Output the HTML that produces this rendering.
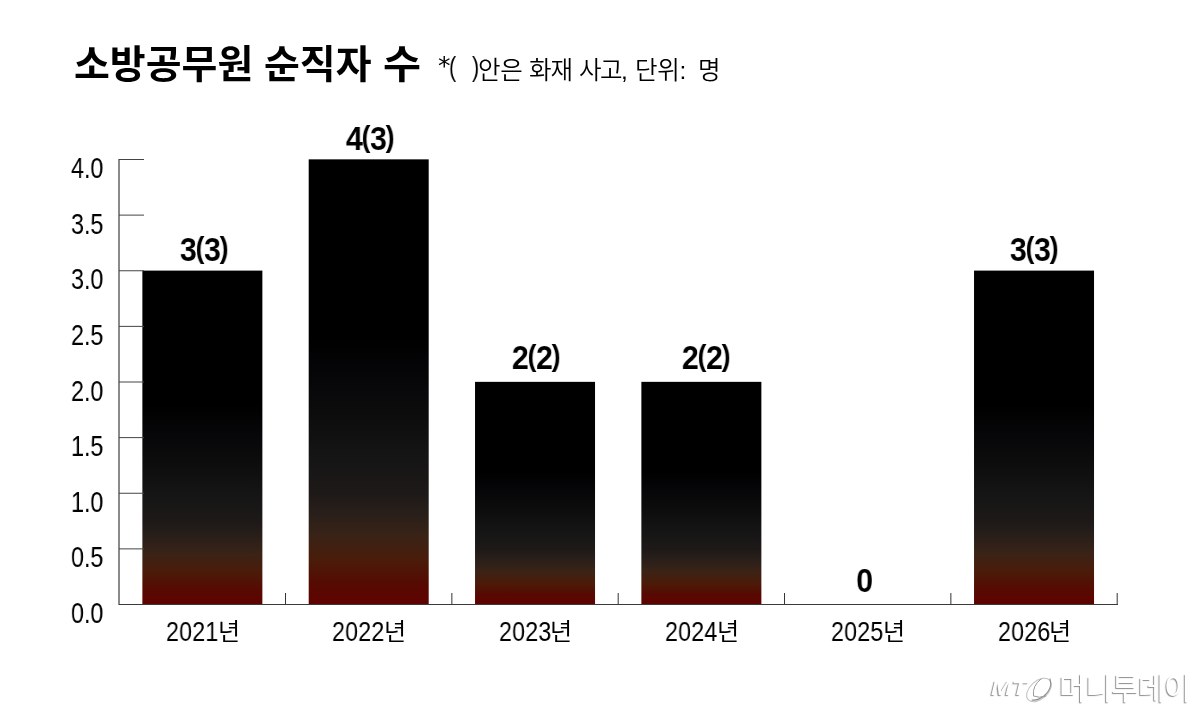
<!DOCTYPE html>
<html lang="ko">
<head>
<meta charset="utf-8">
<title>소방공무원 순직자 수</title>
<style>
html,body{margin:0;padding:0;background:#fff;}
body{width:1200px;height:712px;overflow:hidden;position:relative;
  font-family:"Liberation Sans","Noto Sans CJK KR",sans-serif;color:#000;}
div{position:absolute;white-space:nowrap;line-height:1;will-change:transform;}
.tt{font-weight:700;font-size:38.6px;top:46.3px;transform-origin:0 0;transform:scaleX(1.01);}
.st{font-size:24.5px;top:58px;font-weight:350;}
.yl{left:71.3px;font-size:29.5px;transform-origin:0 0;transform:scaleX(0.79);}
.val{width:120px;text-align:center;font-weight:700;font-size:34px;letter-spacing:-1.45px;transform:scaleX(0.894);}
.val .p{font-size:30px;position:relative;top:-2.8px;letter-spacing:-0.4px;}
.xn{top:618.6px;font-size:27px;letter-spacing:0.2px;transform-origin:0 0;transform:scaleX(0.86);}
.xk{top:620px;font-size:24px;}
.wm{color:#fff;text-shadow:-1px 1px 1px rgba(0,0,0,.45);}
svg{position:absolute;left:0;top:0;}
</style>
</head>
<body>
<svg width="1200" height="712" viewBox="0 0 1200 712">
  <defs>
    <linearGradient id="g" x1="0" y1="0" x2="0" y2="1">
      <stop offset="0" stop-color="#000"/>
      <stop offset="0.40" stop-color="#000"/>
      <stop offset="0.47" stop-color="#050507"/>
      <stop offset="0.58" stop-color="#0d0d0e"/>
      <stop offset="0.67" stop-color="#151515"/>
      <stop offset="0.75" stop-color="#1d1918"/>
      <stop offset="0.80" stop-color="#2a1f1a"/>
      <stop offset="0.85" stop-color="#3a2316"/>
      <stop offset="0.90" stop-color="#4a1c0a"/>
      <stop offset="0.955" stop-color="#560a02"/>
      <stop offset="1" stop-color="#600200"/>
    </linearGradient>
  </defs>
  <rect x="142.37" y="270.60" width="120" height="333.70" fill="url(#g)"/><rect x="308.70" y="159.35" width="120" height="444.95" fill="url(#g)"/><rect x="475.03" y="381.85" width="120" height="222.45" fill="url(#g)"/><rect x="641.37" y="381.85" width="120" height="222.45" fill="url(#g)"/><rect x="974.03" y="270.60" width="120" height="333.70" fill="url(#g)"/>
  <g stroke="#555" stroke-width="1" fill="none" shape-rendering="crispEdges">
    <line x1="119" y1="159" x2="119" y2="605" stroke="#2a2a2a" stroke-width="1.1" shape-rendering="auto"/>
    <line x1="119" y1="604.5" x2="1118" y2="604.5" stroke="#3a3a3a"/>
    <line x1="119" y1="159.50" x2="144" y2="159.50" stroke="#444" shape-rendering="auto"/><line x1="119" y1="215.12" x2="144" y2="215.12" stroke="#444" shape-rendering="auto"/><line x1="119" y1="270.75" x2="144" y2="270.75" stroke="#444" shape-rendering="auto"/><line x1="119" y1="326.38" x2="144" y2="326.38" stroke="#444" shape-rendering="auto"/><line x1="119" y1="382.00" x2="144" y2="382.00" stroke="#444" shape-rendering="auto"/><line x1="119" y1="437.62" x2="144" y2="437.62" stroke="#444" shape-rendering="auto"/><line x1="119" y1="493.25" x2="144" y2="493.25" stroke="#444" shape-rendering="auto"/><line x1="119" y1="548.88" x2="144" y2="548.88" stroke="#444" shape-rendering="auto"/>
    <line x1="285.53" y1="593" x2="285.53" y2="604" stroke="#333" shape-rendering="auto"/><line x1="451.87" y1="593" x2="451.87" y2="604" stroke="#333" shape-rendering="auto"/><line x1="618.20" y1="593" x2="618.20" y2="604" stroke="#333" shape-rendering="auto"/><line x1="784.53" y1="593" x2="784.53" y2="604" stroke="#333" shape-rendering="auto"/><line x1="950.87" y1="593" x2="950.87" y2="604" stroke="#333" shape-rendering="auto"/><line x1="1117.20" y1="593" x2="1117.20" y2="604" stroke="#333" shape-rendering="auto"/>
  </g>
</svg>
<div class="tt" style="left:74px">소방공무원</div>
<div class="tt" style="left:264px">순직자</div>
<div class="tt" style="left:383px;transform:scaleX(1.07)">수</div>
<div class="st" style="left:438px;top:52.5px;font-size:25px;font-weight:400;font-family:&quot;DejaVu Sans&quot;,sans-serif">*</div>
<div class="st" style="left:449px;top:53.5px;font-size:27px;transform-origin:0 0;transform:scaleX(0.8)">(</div>
<div class="st" style="left:472px;top:53.5px;font-size:27px;transform-origin:0 0;transform:scaleX(0.8)">)</div>
<div class="st" style="left:478px;top:59px;letter-spacing:-0.3px">안은</div>
<div class="st" style="left:528.5px;top:59px;letter-spacing:-1px">화재</div>
<div class="st" style="left:578.5px;top:59px;letter-spacing:-1.5px">사고,</div>
<div class="st" style="left:635px;top:59px;letter-spacing:-0.3px">단위:</div>
<div class="st" style="left:697.7px;top:59px">명</div>
<div class="yl" style="top:153px">4.0</div><div class="yl" style="top:209px">3.5</div><div class="yl" style="top:264px">3.0</div><div class="yl" style="top:320px">2.5</div><div class="yl" style="top:376px">2.0</div><div class="yl" style="top:431px">1.5</div><div class="yl" style="top:487px">1.0</div><div class="yl" style="top:542px">0.5</div><div class="yl" style="top:598px">0.0</div>
<div class="val" style="left:143.6px;top:231.9px">3<span class="p">(</span>3<span class="p">)</span></div><div class="val" style="left:309.5px;top:120.7px">4<span class="p">(</span>3<span class="p">)</span></div><div class="val" style="left:476.0px;top:340px">2<span class="p">(</span>2<span class="p">)</span></div><div class="val" style="left:646.1px;top:340px">2<span class="p">(</span>2<span class="p">)</span></div><div class="val" style="left:803.9px;top:563px">0</div><div class="val" style="left:974.0px;top:232.1px">3<span class="p">(</span>3<span class="p">)</span></div>
<div class="xn" style="left:166.1px">2021</div><div class="xk" style="left:217.6px">년</div><div class="xn" style="left:332.4px">2022</div><div class="xk" style="left:383.9px">년</div><div class="xn" style="left:498.7px">2023</div><div class="xk" style="left:550.2px">년</div><div class="xn" style="left:665.1px">2024</div><div class="xk" style="left:716.6px">년</div><div class="xn" style="left:831.4px">2025</div><div class="xk" style="left:882.9px">년</div><div class="xn" style="left:997.7px">2026</div><div class="xk" style="left:1049.2px">년</div>
<div class="wm" style="left:991px;top:678px;font-size:20px;font-style:italic;font-weight:700;transform-origin:0 0;transform:scaleX(1.25)">MT</div>
<svg width="1200" height="712" viewBox="0 0 1200 712" style="pointer-events:none">
  <g fill="none" stroke-linecap="round">
    <ellipse cx="1039" cy="690" rx="14.5" ry="9" transform="rotate(-42 1039 690)" stroke="#c4c4c4" stroke-width="1.1"/>
    <path d="M1050 679 Q1053 688 1044 696 Q1037 701 1032 700" stroke="#8a8a8a" stroke-width="1.1"/>
    <path d="M1041 679 Q1032 686 1033.5 696 Q1039 698.5 1046 696" stroke="#9a9a9a" stroke-width="1"/>
  </g>
</svg>
<div class="wm" style="left:1059px;top:673.5px;font-size:29.5px;font-weight:400;letter-spacing:-0.9px">머니투데이</div>
</body>
</html>
